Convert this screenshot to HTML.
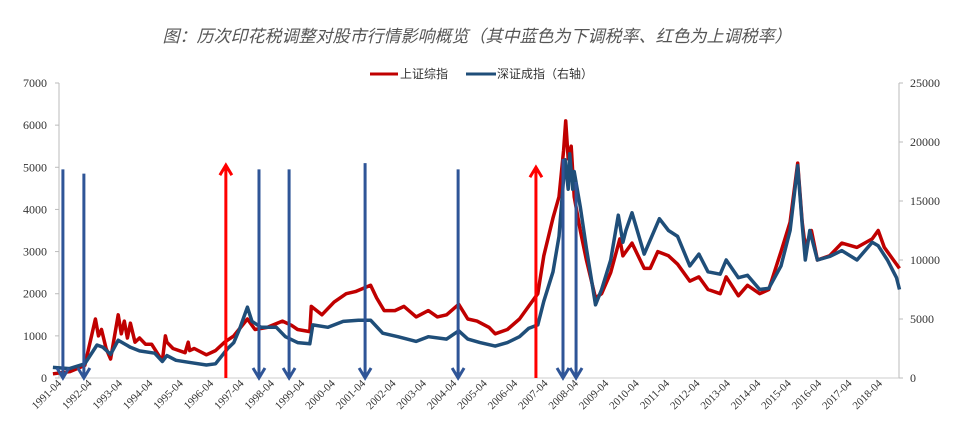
<!DOCTYPE html>
<html><head><meta charset="utf-8">
<style>
body{margin:0;background:#fff;width:954px;height:444px;overflow:hidden;font-family:"Liberation Serif","Noto Serif CJK SC",serif;}
#title{position:absolute;left:0;top:22px;width:954px;text-align:center;font-family:"Liberation Sans","Noto Sans CJK SC",sans-serif;font-style:italic;font-size:17px;color:#555;}
svg{position:absolute;left:0;top:0;}
</style></head><body>
<div id="title">图：历次印花税调整对股市行情影响概览（其中蓝色为下调税率、红色为上调税率）</div>
<svg id="c" width="954" height="444"></svg>
<script>
const shDates=[1990.95,1991.5,1992.0,1992.35,1992.45,1992.55,1992.7,1992.85,1993.1,1993.2,1993.3,1993.4,1993.5,1993.65,1993.8,1994.0,1994.2,1994.55,1994.65,1994.7,1994.9,1995.3,1995.4,1995.45,1995.6,1996.0,1996.3,1996.6,1996.9,1997.35,1997.6,1998.0,1998.5,1998.8,1999.0,1999.4,1999.45,1999.8,2000.2,2000.6,2000.9,2001.4,2001.6,2001.85,2002.2,2002.5,2002.9,2003.3,2003.6,2003.9,2004.3,2004.6,2004.9,2005.3,2005.5,2005.9,2006.3,2006.6,2006.9,2007.1,2007.4,2007.6,2007.75,2007.82,2007.9,2008.0,2008.1,2008.3,2008.5,2008.8,2009.0,2009.3,2009.6,2009.7,2009.8,2010.0,2010.4,2010.6,2010.85,2011.2,2011.5,2011.9,2012.2,2012.5,2012.9,2013.1,2013.5,2013.8,2014.2,2014.5,2014.9,2015.2,2015.45,2015.6,2015.7,2015.9,2016.1,2016.5,2016.9,2017.4,2017.9,2018.1,2018.3,2018.6,2018.8];
const shValues=[100,150,300,1400,1000,1150,700,450,1500,1050,1350,950,1300,850,950,800,800,400,1000,850,700,600,850,650,700,550,650,850,1000,1400,1150,1200,1350,1250,1150,1100,1700,1500,1800,2000,2050,2200,1900,1600,1600,1700,1450,1600,1450,1500,1750,1400,1350,1200,1050,1150,1400,1700,2000,2900,3800,4300,5400,6100,5200,5500,4300,3500,2800,1900,2000,2500,3300,2900,3000,3200,2600,2600,3000,2900,2700,2300,2400,2100,2000,2400,1950,2200,2000,2100,3000,3700,5100,3700,3100,3500,2800,2900,3200,3100,3300,3500,3100,2800,2600];
const szDates=[1990.95,1991.5,1992.0,1992.4,1992.6,1992.85,1993.1,1993.5,1993.8,1994.3,1994.55,1994.7,1995.0,1995.5,1996.0,1996.3,1996.7,1996.9,1997.1,1997.35,1997.5,1997.8,1998.3,1998.6,1999.0,1999.4,1999.5,2000.0,2000.5,2001.0,2001.4,2001.8,2002.3,2002.9,2003.3,2003.9,2004.3,2004.6,2005.0,2005.5,2005.9,2006.3,2006.6,2006.9,2007.1,2007.4,2007.6,2007.8,2007.9,2007.95,2008.05,2008.1,2008.3,2008.5,2008.8,2009.0,2009.3,2009.55,2009.7,2009.8,2010.0,2010.4,2010.9,2011.2,2011.5,2011.9,2012.2,2012.5,2012.9,2013.1,2013.5,2013.8,2014.2,2014.5,2014.9,2015.2,2015.45,2015.6,2015.7,2015.85,2016.1,2016.5,2016.9,2017.4,2017.9,2018.1,2018.4,2018.7,2018.8];
const szValues=[900,800,1200,2800,2600,2000,3200,2600,2300,2100,1400,1900,1500,1300,1100,1200,2500,3000,4200,6000,4800,4300,4300,3500,3000,2900,4500,4300,4800,4900,4900,3800,3500,3100,3500,3300,4000,3300,3000,2700,3000,3500,4200,4500,6500,9000,12000,18500,16000,19000,16000,17500,14500,11000,6200,7500,10000,13800,11500,12500,14000,10500,13500,12500,12000,9500,10500,9000,8800,10000,8500,8700,7500,7600,9500,12500,18000,13000,10000,12500,10000,10300,10800,10000,11500,11200,10000,8500,7500];
const leftTicks=[0,1000,2000,3000,4000,5000,6000,7000];
const rightTicks=[0,5000,10000,15000,20000,25000];
const xLabels=["1991-04","1992-04","1993-04","1994-04","1995-04","1996-04","1997-04","1998-04","1999-04","2000-04","2001-04","2002-04","2003-04","2004-04","2005-04","2006-04","2007-04","2008-04","2009-04","2010-04","2011-04","2012-04","2013-04","2014-04","2015-04","2016-04","2017-04","2018-04"];
const downArrows=[1991.28,1991.97,1997.73,1998.72,2001.22,2004.28,2007.73,2008.16];
const downTops=[4950,4850,4950,4950,5100,4950,5200,4650];
const upArrows=[1996.64,2006.84];
const upTops=[5050,5000];

const NS="http://www.w3.org/2000/svg";
const svg=document.getElementById('c');
const X0=59,X1=899,Y0=378,Y1=83;
const xs=t=>62+(t-1991.25)*30.4;
const yl=v=>Y0-(v/7000)*(Y0-Y1);
const yr=v=>Y0-(v/25000)*(Y0-Y1);
function mk(tag,at){const e=document.createElementNS(NS,tag);for(const k in at)e.setAttribute(k,at[k]);svg.appendChild(e);return e;}
let e;
e=mk('line',{x1:X0,y1:Y1,x2:X0,y2:Y0,stroke:'#bbb'});


e=mk('line',{x1:X1,y1:Y1,x2:X1,y2:Y0,stroke:'#bbb'});


e=mk('line',{x1:X0,y1:Y0,x2:X1,y2:Y0,stroke:'#ccc'});


leftTicks.forEach(v=>{
  mk('line',{x1:X0-4,x2:X0,y1:yl(v),y2:yl(v),stroke:'#bbb'});
  e=mk('text',{x:X0-12,y:yl(v)+4,'text-anchor':'end','font-size':12,fill:'#333'});
  e.textContent=v;
  
  
});
rightTicks.forEach(v=>{
  mk('line',{x1:X1,x2:X1+4,y1:yr(v),y2:yr(v),stroke:'#bbb'});
  e=mk('text',{x:910,y:yr(v)+4,'text-anchor':'start','font-size':12,fill:'#333'});
  e.textContent=v;
  
  
});
xLabels.forEach((l,i)=>{
  const x=xs(1991.25+i);
  e=mk('text',{x:x,y:384,'text-anchor':'end','font-size':11,fill:'#333',transform:`rotate(-45 ${x} 384)`});
  e.textContent=l;
  
  
});
function line(d,v,f,col,name){
  e=mk('polyline',{points:d.map((t,i)=>xs(t).toFixed(1)+','+f(v[i]).toFixed(1)).join(' '),fill:'none',stroke:col,'stroke-width':3.5,'stroke-linejoin':'round'});
  
  
}
line(shDates,shValues,yl,'#c00000','shanghai-composite-line');
line(szDates,szValues,yr,'#1f4e79','shenzhen-component-line');
downArrows.forEach((t,i)=>{
  const x=xs(t),top=yl(downTops[i]);
  e=mk('path',{d:`M${x},${top} L${x},${Y0} M${x-6},${Y0-10} L${x},${Y0} L${x+6},${Y0-10}`,stroke:'#2f5597','stroke-width':3,fill:'none'});
  
  
});
upArrows.forEach((t,i)=>{
  const x=xs(t),top=yl(upTops[i]);
  e=mk('path',{d:`M${x},${Y0} L${x},${top} M${x-6},${top+10} L${x},${top} L${x+6},${top+10}`,stroke:'#ff0000','stroke-width':3,fill:'none'});
  
  
});
e=mk('line',{x1:370,x2:398,y1:74,y2:74,stroke:'#c00000','stroke-width':3});


e=mk('text',{x:400,y:78,'font-size':12,fill:'#333','font-family':'"Liberation Sans","Noto Sans CJK SC",sans-serif'});
e.textContent='上证综指';


e=mk('line',{x1:466,x2:496,y1:74,y2:74,stroke:'#1f4e79','stroke-width':3});


e=mk('text',{x:497,y:78,'font-size':12,fill:'#333','font-family':'"Liberation Sans","Noto Sans CJK SC",sans-serif'});
e.textContent='深证成指（右轴）';


</script>
</body></html>
